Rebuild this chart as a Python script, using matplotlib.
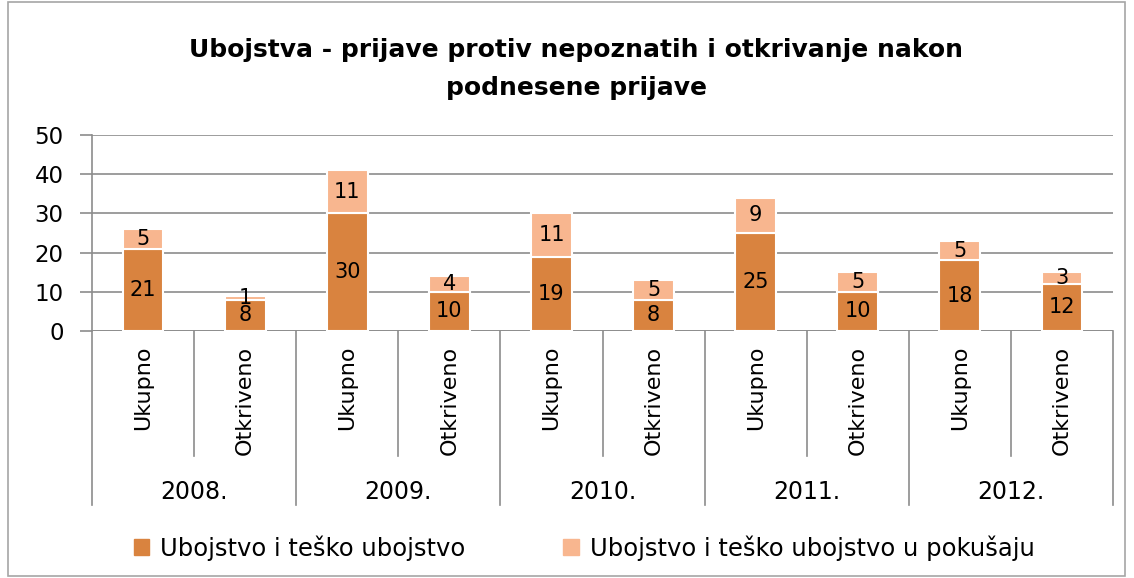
import matplotlib
matplotlib.use("Agg")
import matplotlib.pyplot as plt
from matplotlib.patches import Rectangle
from matplotlib.lines import Line2D
import numpy as np

years = ["2008.", "2009.", "2010.", "2011.", "2012."]
subcats = ["Ukupno", "Otkriveno"]
series1_name = "Ubojstvo i teško ubojstvo"
series2_name = "Ubojstvo i teško ubojstvo u pokušaju"
series1 = [21, 8, 30, 10, 19, 8, 25, 10, 18, 12]
series2 = [5, 1, 11, 4, 11, 5, 9, 5, 5, 3]
title = "Ubojstva - prijave protiv nepoznatih i otkrivanje nakon\npodnesene prijave"
yticks = [0, 10, 20, 30, 40, 50]

c1 = "#D9833F"
c2 = "#F8B68F"
grid_c = "#8C8C8C"

plt.rcParams['font.family'] = ['DejaVu Sans']

W, H = 1134, 578
fig = plt.figure(figsize=(W / 100, H / 100), dpi=100)

def fx(px):
    return px / W

def fy(py):
    return 1 - py / H

left, right, top, bottom = 92, 1113, 135, 331
ax = fig.add_axes([fx(left), fy(bottom), fx(right) - fx(left), fy(top) - fy(bottom)])

n = len(series1)
x = np.arange(n)
bw = 0.4
ax.bar(x, series1, width=bw, color=c1, edgecolor="white", linewidth=1.5, zorder=3)
ax.bar(x, series2, width=bw, bottom=series1, color=c2, edgecolor="white", linewidth=1.5, zorder=3)

for i in range(n):
    ax.text(x[i], series1[i] / 2, str(series1[i]), ha="center", va="center", fontsize=15, zorder=4)
    ax.text(x[i], series1[i] + series2[i] / 2, str(series2[i]), ha="center", va="center", fontsize=15, zorder=4)

ax.set_xlim(-0.5, n - 0.5)
ax.set_ylim(0, 50)
ax.set_yticks(yticks)
ax.set_yticklabels([str(t) for t in yticks], fontsize=16.5)
ax.tick_params(axis="y", length=8.5, width=1.2, color=grid_c, pad=12)
ax.set_xticks([])
ax.grid(axis="y", color=grid_c, linewidth=1.2, zorder=0)
for s in ["top", "right", "bottom"]:
    ax.spines[s].set_visible(False)
ax.spines["left"].set_color(grid_c)
ax.spines["left"].set_linewidth(1.2)
ax.axhline(0, color=grid_c, linewidth=1.2, zorder=2)

# category axis area
trans = ax.get_xaxis_transform()
y_inner = (bottom - 456) / (bottom - top)
y_outer = (bottom - 505) / (bottom - top)
for b in range(n + 1):
    xb = b - 0.5
    yend = y_outer if b % 2 == 0 else y_inner
    ax.add_line(Line2D([xb, xb], [0, yend], transform=trans, color=grid_c,
                       linewidth=1.2, clip_on=False))

y_lab = (bottom - 346) / (bottom - top)
for i in range(n):
    ax.text(x[i], y_lab, subcats[i % 2], rotation=90, ha="center", va="top",
            fontsize=16, transform=trans, clip_on=False)

y_year = (bottom - 492) / (bottom - top)
for j, yr in enumerate(years):
    ax.text(2 * j + 0.5, y_year, yr, ha="center", va="center", fontsize=17,
            transform=trans, clip_on=False)

fig.text(0.508, fy(69), title, ha="center", va="center", fontsize=18,
         fontweight="bold", linespacing=1.7)

handles = [Rectangle((0, 0), 1, 1, color=c1), Rectangle((0, 0), 1, 1, color=c2)]
fig.legend(handles, [series1_name, series2_name], loc="center",
           bbox_to_anchor=(0.515, fy(548)), ncol=2, frameon=False, fontsize=17.5,
           handlelength=0.65, handleheight=0.65, handletextpad=0.45, columnspacing=4.0)

fig.patches.append(Rectangle((fx(8), fy(576)), fx(1125) - fx(8), fy(2) - fy(576),
                             transform=fig.transFigure, fill=False,
                             edgecolor="#A6A6A6", linewidth=1.2))

fig.savefig("out.png", dpi=100)
